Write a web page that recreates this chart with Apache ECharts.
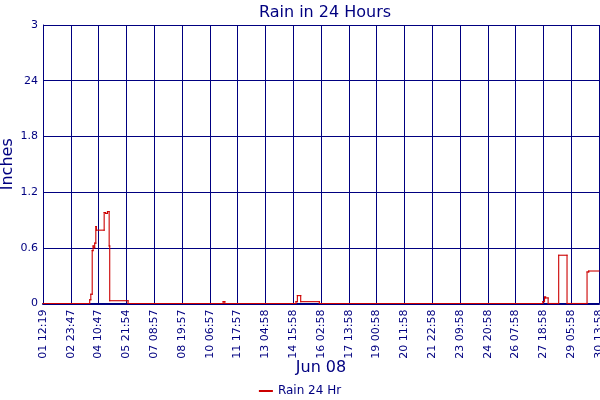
<!DOCTYPE html>
<html>
<head>
<meta charset="utf-8">
<script src="https://cdn.jsdelivr.net/npm/echarts@6/dist/echarts.min.js"></script>
<style>html,body{margin:0;padding:0;background:#fff}#c{width:600px;height:400px}</style>
</head>
<body>
<div id="c"></div>
<script>
// Tick labels along the time axis (one per tick, position = index)
var xTickLabels = ["01 12:19","02 23:47","04 10:47","05 21:54","07 08:57","08 19:57","10 06:57",
  "11 17:57","13 04:58","14 15:58","16 02:58","17 13:58","19 00:58","20 11:58","21 22:58",
  "23 09:58","24 20:58","26 07:58","27 18:58","29 05:58","30 13:58"];
// Y tick labels as printed on the reference
var yTickValues = [0, 0.6, 1.2, 1.8, 2.4, 3];
var yTickLabels = ["0", "0.6", "1.2", "1.8", "24", "3"];
// Step points: position in tick units, rain value (inches) starting there
var rainX = [0, 1.68, 1.72, 1.77, 1.80, 1.83, 1.86, 1.90, 1.92, 2.20, 2.25, 2.32, 2.38, 2.40, 3.06,
  6.48, 6.54, 9.10, 9.15, 9.27, 9.94, 17.98, 18.04, 18.08, 18.17, 18.55, 18.85, 19.57, 19.63, 20];
var rainY = [0, 0.04, 0.10, 0.57, 0.62, 0.60, 0.65, 0.83, 0.79, 0.98, 0.97, 0.99, 0.62, 0.03, 0,
  0.02, 0, 0.02, 0.085, 0.02, 0, 0.02, 0.07, 0.06, 0, 0.52, 0, 0.34, 0.35, 0.35];

var navy = '#000080';
var red = '#cc0000';
var font = 'DejaVu Sans';
// Expand into a stepped path: the value changes at each x
var pts = [];
rainX.forEach(function (x, i) {
  if (i > 0) pts.push([x, rainY[i - 1]]);
  pts.push([x, rainY[i]]);
});
// Segments between consecutive path points: [x1, y1, x2, y2]
var segs = [];
for (var k = 0; k < pts.length - 1; k++) {
  segs.push([pts[k][0], pts[k][1], pts[k + 1][0], pts[k + 1][1]]);
}

var chart = echarts.init(document.getElementById('c'));
chart.setOption({
  animation: false,
  backgroundColor: '#fff',
  title: {
    text: 'Rain in 24 Hours', left: 320, top: 0, textAlign: 'center',
    textStyle: { color: navy, fontFamily: font, fontSize: 16, fontWeight: 'normal' }
  },
  legend: {
    left: 'center', top: 380, itemWidth: 14, itemHeight: 2, itemGap: 4,
    icon: 'rect',
    textStyle: { color: navy, fontFamily: font, fontSize: 12 },
    data: ['Rain 24 Hr']
  },
  grid: { left: 43, top: 25, right: 1, bottom: 96.5, containLabel: false, outerBoundsMode: 'none' },
  xAxis: {
    type: 'value', min: 0, max: 20, interval: 1,
    name: 'Jun 08', nameLocation: 'middle', nameGap: 56, nameMoveOverlap: false,
    nameTextStyle: { color: navy, fontFamily: font, fontSize: 16 },
    axisLine: { show: true, lineStyle: { color: navy, width: 2 } },
    axisTick: { show: false },
    splitLine: { show: true, lineStyle: { color: navy, width: 1 } },
    axisLabel: {
      rotate: 90, color: navy, fontFamily: font, fontSize: 11, margin: 6,
      showMinLabel: true, showMaxLabel: true, hideOverlap: false,
      formatter: function (v) { var i = Math.round(v); return xTickLabels[i] || ''; }
    }
  },
  yAxis: {
    type: 'value', min: 0, max: 3, interval: 0.6,
    name: 'Inches', nameLocation: 'middle', nameGap: 27, nameRotate: 90, nameMoveOverlap: false,
    nameTextStyle: { color: navy, fontFamily: font, fontSize: 16 },
    axisLine: { show: true, lineStyle: { color: navy, width: 1 } },
    axisTick: { show: false },
    splitLine: { show: true, lineStyle: { color: navy, width: 1 } },
    axisLabel: {
      color: navy, fontFamily: font, fontSize: 11, margin: 5,
      formatter: function (v) {
        for (var i = 0; i < yTickValues.length; i++) {
          if (Math.abs(yTickValues[i] - v) < 1e-6) return yTickLabels[i];
        }
        return '';
      }
    }
  },
  series: [{
    name: 'Rain 24 Hr', type: 'custom', z: 5,
    color: red,
    itemStyle: { color: red },
    dimensions: ['x1', 'y1', 'x2', 'y2'],
    encode: { x: [0, 2], y: [1, 3] },
    data: segs,
    renderItem: function (params, api) {
      var p1 = api.coord([api.value(0), api.value(1)]);
      var p2 = api.coord([api.value(2), api.value(3)]);
      return {
        type: 'line',
        shape: { x1: p1[0], y1: p1[1], x2: p2[0], y2: p2[1] },
        style: { stroke: red, lineWidth: 1.1, lineCap: 'square' },
        silent: true
      };
    }
  }]
});
</script>
</body>
</html>
